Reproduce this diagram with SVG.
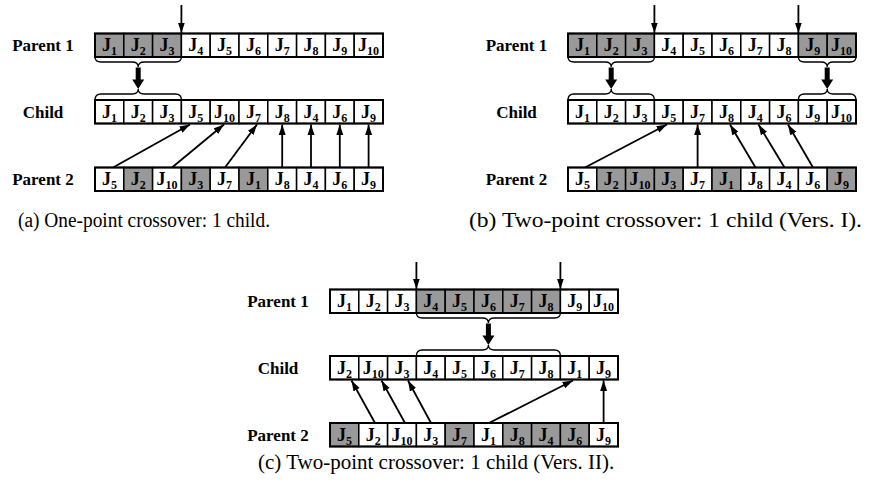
<svg xmlns="http://www.w3.org/2000/svg" width="873" height="490" viewBox="0 0 873 490">
<defs>
<style>
.bg{fill:#fff}
.c{fill:#fff;stroke:#000;stroke-width:1.5}
.g{fill:#999;stroke:#000;stroke-width:1.5}
.o{fill:none;stroke:#000;stroke-width:2}
.j{font-family:"Liberation Serif","Times New Roman",serif;font-weight:bold;font-size:18px;text-anchor:middle;fill:#000}
.s{font-size:12px}
.lbl{font-family:"Liberation Serif","Times New Roman",serif;font-weight:bold;font-size:17px;text-anchor:middle;fill:#000}
.cap{font-family:"Liberation Serif","Times New Roman",serif;font-size:21px;fill:#000}
.ln{stroke:#000;stroke-width:1.8;fill:none;marker-end:url(#ah)}
.br{stroke:#000;stroke-width:1.3;fill:none}
.th{fill:#000}
</style>
<marker id="ah" markerUnits="userSpaceOnUse" markerWidth="11" markerHeight="8" refX="10.5" refY="4" orient="auto">
<path d="M0,0.5 L10.5,4 L0,7.5 z" fill="#000"/>
</marker>
</defs>
<rect class="bg" x="0" y="0" width="873" height="490"/>

<!-- ===== Panel (a) ===== -->
<text class="lbl" x="43" y="51.2">Parent 1</text>
<text class="lbl" x="43" y="117.7">Child</text>
<text class="lbl" x="43" y="185.2">Parent 2</text>

<g id="a-parent1">
<rect class="g" x="95" y="33.5" width="28.8" height="23.5"/>
<rect class="g" x="123.8" y="33.5" width="28.8" height="23.5"/>
<rect class="g" x="152.6" y="33.5" width="28.8" height="23.5"/>
<rect class="c" x="181.4" y="33.5" width="28.8" height="23.5"/>
<rect class="c" x="210.2" y="33.5" width="28.8" height="23.5"/>
<rect class="c" x="239" y="33.5" width="28.8" height="23.5"/>
<rect class="c" x="267.8" y="33.5" width="28.8" height="23.5"/>
<rect class="c" x="296.6" y="33.5" width="28.8" height="23.5"/>
<rect class="c" x="325.4" y="33.5" width="28.8" height="23.5"/>
<rect class="c" x="354.2" y="33.5" width="28.8" height="23.5"/>
<rect class="o" x="95" y="33.5" width="288" height="23.5"/>
<text class="j" x="109.4" y="51">J<tspan class="s" dy="4">1</tspan></text>
<text class="j" x="138.2" y="51">J<tspan class="s" dy="4">2</tspan></text>
<text class="j" x="167" y="51">J<tspan class="s" dy="4">3</tspan></text>
<text class="j" x="195.8" y="51">J<tspan class="s" dy="4">4</tspan></text>
<text class="j" x="224.6" y="51">J<tspan class="s" dy="4">5</tspan></text>
<text class="j" x="253.4" y="51">J<tspan class="s" dy="4">6</tspan></text>
<text class="j" x="282.2" y="51">J<tspan class="s" dy="4">7</tspan></text>
<text class="j" x="311" y="51">J<tspan class="s" dy="4">8</tspan></text>
<text class="j" x="339.8" y="51">J<tspan class="s" dy="4">9</tspan></text>
<text class="j" x="368.6" y="51">J<tspan class="s" dy="4">10</tspan></text>
</g>

<g id="a-child">
<rect class="c" x="95" y="100" width="28.8" height="23.5"/>
<rect class="c" x="123.8" y="100" width="28.8" height="23.5"/>
<rect class="c" x="152.6" y="100" width="28.8" height="23.5"/>
<rect class="c" x="181.4" y="100" width="28.8" height="23.5"/>
<rect class="c" x="210.2" y="100" width="28.8" height="23.5"/>
<rect class="c" x="239" y="100" width="28.8" height="23.5"/>
<rect class="c" x="267.8" y="100" width="28.8" height="23.5"/>
<rect class="c" x="296.6" y="100" width="28.8" height="23.5"/>
<rect class="c" x="325.4" y="100" width="28.8" height="23.5"/>
<rect class="c" x="354.2" y="100" width="28.8" height="23.5"/>
<rect class="o" x="95" y="100" width="288" height="23.5"/>
<text class="j" x="109.4" y="117.5">J<tspan class="s" dy="4">1</tspan></text>
<text class="j" x="138.2" y="117.5">J<tspan class="s" dy="4">2</tspan></text>
<text class="j" x="167" y="117.5">J<tspan class="s" dy="4">3</tspan></text>
<text class="j" x="195.8" y="117.5">J<tspan class="s" dy="4">5</tspan></text>
<text class="j" x="224.6" y="117.5">J<tspan class="s" dy="4">10</tspan></text>
<text class="j" x="253.4" y="117.5">J<tspan class="s" dy="4">7</tspan></text>
<text class="j" x="282.2" y="117.5">J<tspan class="s" dy="4">8</tspan></text>
<text class="j" x="311" y="117.5">J<tspan class="s" dy="4">4</tspan></text>
<text class="j" x="339.8" y="117.5">J<tspan class="s" dy="4">6</tspan></text>
<text class="j" x="368.6" y="117.5">J<tspan class="s" dy="4">9</tspan></text>
</g>

<g id="a-parent2">
<rect class="c" x="95" y="167.5" width="28.8" height="23.5"/>
<rect class="g" x="123.8" y="167.5" width="28.8" height="23.5"/>
<rect class="c" x="152.6" y="167.5" width="28.8" height="23.5"/>
<rect class="g" x="181.4" y="167.5" width="28.8" height="23.5"/>
<rect class="c" x="210.2" y="167.5" width="28.8" height="23.5"/>
<rect class="g" x="239" y="167.5" width="28.8" height="23.5"/>
<rect class="c" x="267.8" y="167.5" width="28.8" height="23.5"/>
<rect class="c" x="296.6" y="167.5" width="28.8" height="23.5"/>
<rect class="c" x="325.4" y="167.5" width="28.8" height="23.5"/>
<rect class="c" x="354.2" y="167.5" width="28.8" height="23.5"/>
<rect class="o" x="95" y="167.5" width="288" height="23.5"/>
<text class="j" x="109.4" y="185">J<tspan class="s" dy="4">5</tspan></text>
<text class="j" x="138.2" y="185">J<tspan class="s" dy="4">2</tspan></text>
<text class="j" x="167" y="185">J<tspan class="s" dy="4">10</tspan></text>
<text class="j" x="195.8" y="185">J<tspan class="s" dy="4">3</tspan></text>
<text class="j" x="224.6" y="185">J<tspan class="s" dy="4">7</tspan></text>
<text class="j" x="253.4" y="185">J<tspan class="s" dy="4">1</tspan></text>
<text class="j" x="282.2" y="185">J<tspan class="s" dy="4">8</tspan></text>
<text class="j" x="311" y="185">J<tspan class="s" dy="4">4</tspan></text>
<text class="j" x="339.8" y="185">J<tspan class="s" dy="4">6</tspan></text>
<text class="j" x="368.6" y="185">J<tspan class="s" dy="4">9</tspan></text>
</g>

<text class="cap" x="18" y="227" style="font-size:20.5px" textLength="252" lengthAdjust="spacingAndGlyphs">(a) One-point crossover: 1 child.</text>

<!-- ===== Panel (b) ===== -->
<text class="lbl" x="516.5" y="51.2">Parent 1</text>
<text class="lbl" x="516.5" y="117.7">Child</text>
<text class="lbl" x="516.5" y="185.2">Parent 2</text>

<g id="b-parent1">
<rect class="g" x="568" y="33.5" width="28.8" height="23.5"/>
<rect class="g" x="596.8" y="33.5" width="28.8" height="23.5"/>
<rect class="g" x="625.6" y="33.5" width="28.8" height="23.5"/>
<rect class="c" x="654.4" y="33.5" width="28.8" height="23.5"/>
<rect class="c" x="683.2" y="33.5" width="28.8" height="23.5"/>
<rect class="c" x="712" y="33.5" width="28.8" height="23.5"/>
<rect class="c" x="740.8" y="33.5" width="28.8" height="23.5"/>
<rect class="c" x="769.6" y="33.5" width="28.8" height="23.5"/>
<rect class="g" x="798.4" y="33.5" width="28.8" height="23.5"/>
<rect class="g" x="827.2" y="33.5" width="28.8" height="23.5"/>
<rect class="o" x="568" y="33.5" width="288" height="23.5"/>
<text class="j" x="582.4" y="51">J<tspan class="s" dy="4">1</tspan></text>
<text class="j" x="611.2" y="51">J<tspan class="s" dy="4">2</tspan></text>
<text class="j" x="640" y="51">J<tspan class="s" dy="4">3</tspan></text>
<text class="j" x="668.8" y="51">J<tspan class="s" dy="4">4</tspan></text>
<text class="j" x="697.6" y="51">J<tspan class="s" dy="4">5</tspan></text>
<text class="j" x="726.4" y="51">J<tspan class="s" dy="4">6</tspan></text>
<text class="j" x="755.2" y="51">J<tspan class="s" dy="4">7</tspan></text>
<text class="j" x="784" y="51">J<tspan class="s" dy="4">8</tspan></text>
<text class="j" x="812.8" y="51">J<tspan class="s" dy="4">9</tspan></text>
<text class="j" x="841.6" y="51">J<tspan class="s" dy="4">10</tspan></text>
</g>

<g id="b-child">
<rect class="c" x="568" y="100" width="28.8" height="23.5"/>
<rect class="c" x="596.8" y="100" width="28.8" height="23.5"/>
<rect class="c" x="625.6" y="100" width="28.8" height="23.5"/>
<rect class="c" x="654.4" y="100" width="28.8" height="23.5"/>
<rect class="c" x="683.2" y="100" width="28.8" height="23.5"/>
<rect class="c" x="712" y="100" width="28.8" height="23.5"/>
<rect class="c" x="740.8" y="100" width="28.8" height="23.5"/>
<rect class="c" x="769.6" y="100" width="28.8" height="23.5"/>
<rect class="c" x="798.4" y="100" width="28.8" height="23.5"/>
<rect class="c" x="827.2" y="100" width="28.8" height="23.5"/>
<rect class="o" x="568" y="100" width="288" height="23.5"/>
<text class="j" x="582.4" y="117.5">J<tspan class="s" dy="4">1</tspan></text>
<text class="j" x="611.2" y="117.5">J<tspan class="s" dy="4">2</tspan></text>
<text class="j" x="640" y="117.5">J<tspan class="s" dy="4">3</tspan></text>
<text class="j" x="668.8" y="117.5">J<tspan class="s" dy="4">5</tspan></text>
<text class="j" x="697.6" y="117.5">J<tspan class="s" dy="4">7</tspan></text>
<text class="j" x="726.4" y="117.5">J<tspan class="s" dy="4">8</tspan></text>
<text class="j" x="755.2" y="117.5">J<tspan class="s" dy="4">4</tspan></text>
<text class="j" x="784" y="117.5">J<tspan class="s" dy="4">6</tspan></text>
<text class="j" x="812.8" y="117.5">J<tspan class="s" dy="4">9</tspan></text>
<text class="j" x="841.6" y="117.5">J<tspan class="s" dy="4">10</tspan></text>
</g>

<g id="b-parent2">
<rect class="c" x="568" y="167.5" width="28.8" height="23.5"/>
<rect class="g" x="596.8" y="167.5" width="28.8" height="23.5"/>
<rect class="g" x="625.6" y="167.5" width="28.8" height="23.5"/>
<rect class="g" x="654.4" y="167.5" width="28.8" height="23.5"/>
<rect class="c" x="683.2" y="167.5" width="28.8" height="23.5"/>
<rect class="g" x="712" y="167.5" width="28.8" height="23.5"/>
<rect class="c" x="740.8" y="167.5" width="28.8" height="23.5"/>
<rect class="c" x="769.6" y="167.5" width="28.8" height="23.5"/>
<rect class="c" x="798.4" y="167.5" width="28.8" height="23.5"/>
<rect class="g" x="827.2" y="167.5" width="28.8" height="23.5"/>
<rect class="o" x="568" y="167.5" width="288" height="23.5"/>
<text class="j" x="582.4" y="185">J<tspan class="s" dy="4">5</tspan></text>
<text class="j" x="611.2" y="185">J<tspan class="s" dy="4">2</tspan></text>
<text class="j" x="640" y="185">J<tspan class="s" dy="4">10</tspan></text>
<text class="j" x="668.8" y="185">J<tspan class="s" dy="4">3</tspan></text>
<text class="j" x="697.6" y="185">J<tspan class="s" dy="4">7</tspan></text>
<text class="j" x="726.4" y="185">J<tspan class="s" dy="4">1</tspan></text>
<text class="j" x="755.2" y="185">J<tspan class="s" dy="4">8</tspan></text>
<text class="j" x="784" y="185">J<tspan class="s" dy="4">4</tspan></text>
<text class="j" x="812.8" y="185">J<tspan class="s" dy="4">6</tspan></text>
<text class="j" x="841.6" y="185">J<tspan class="s" dy="4">9</tspan></text>
</g>

<text class="cap" x="469" y="227" style="font-size:22px" textLength="393" lengthAdjust="spacingAndGlyphs">(b) Two-point crossover: 1 child (Vers. I).</text>

<!-- ===== Panel (c) ===== -->
<text class="lbl" x="278" y="307.2">Parent 1</text>
<text class="lbl" x="278" y="373.7">Child</text>
<text class="lbl" x="278" y="440.7">Parent 2</text>

<g id="c-parent1">
<rect class="c" x="330" y="289.5" width="28.8" height="23.5"/>
<rect class="c" x="358.8" y="289.5" width="28.8" height="23.5"/>
<rect class="c" x="387.6" y="289.5" width="28.8" height="23.5"/>
<rect class="g" x="416.4" y="289.5" width="28.8" height="23.5"/>
<rect class="g" x="445.2" y="289.5" width="28.8" height="23.5"/>
<rect class="g" x="474" y="289.5" width="28.8" height="23.5"/>
<rect class="g" x="502.8" y="289.5" width="28.8" height="23.5"/>
<rect class="g" x="531.6" y="289.5" width="28.8" height="23.5"/>
<rect class="c" x="560.4" y="289.5" width="28.8" height="23.5"/>
<rect class="c" x="589.2" y="289.5" width="28.8" height="23.5"/>
<rect class="o" x="330" y="289.5" width="288" height="23.5"/>
<text class="j" x="344.4" y="307">J<tspan class="s" dy="4">1</tspan></text>
<text class="j" x="373.2" y="307">J<tspan class="s" dy="4">2</tspan></text>
<text class="j" x="402" y="307">J<tspan class="s" dy="4">3</tspan></text>
<text class="j" x="430.8" y="307">J<tspan class="s" dy="4">4</tspan></text>
<text class="j" x="459.6" y="307">J<tspan class="s" dy="4">5</tspan></text>
<text class="j" x="488.4" y="307">J<tspan class="s" dy="4">6</tspan></text>
<text class="j" x="517.2" y="307">J<tspan class="s" dy="4">7</tspan></text>
<text class="j" x="546" y="307">J<tspan class="s" dy="4">8</tspan></text>
<text class="j" x="574.8" y="307">J<tspan class="s" dy="4">9</tspan></text>
<text class="j" x="603.6" y="307">J<tspan class="s" dy="4">10</tspan></text>
</g>

<g id="c-child">
<rect class="c" x="330" y="356" width="28.8" height="23.5"/>
<rect class="c" x="358.8" y="356" width="28.8" height="23.5"/>
<rect class="c" x="387.6" y="356" width="28.8" height="23.5"/>
<rect class="c" x="416.4" y="356" width="28.8" height="23.5"/>
<rect class="c" x="445.2" y="356" width="28.8" height="23.5"/>
<rect class="c" x="474" y="356" width="28.8" height="23.5"/>
<rect class="c" x="502.8" y="356" width="28.8" height="23.5"/>
<rect class="c" x="531.6" y="356" width="28.8" height="23.5"/>
<rect class="c" x="560.4" y="356" width="28.8" height="23.5"/>
<rect class="c" x="589.2" y="356" width="28.8" height="23.5"/>
<rect class="o" x="330" y="356" width="288" height="23.5"/>
<text class="j" x="344.4" y="373.5">J<tspan class="s" dy="4">2</tspan></text>
<text class="j" x="373.2" y="373.5">J<tspan class="s" dy="4">10</tspan></text>
<text class="j" x="402" y="373.5">J<tspan class="s" dy="4">3</tspan></text>
<text class="j" x="430.8" y="373.5">J<tspan class="s" dy="4">4</tspan></text>
<text class="j" x="459.6" y="373.5">J<tspan class="s" dy="4">5</tspan></text>
<text class="j" x="488.4" y="373.5">J<tspan class="s" dy="4">6</tspan></text>
<text class="j" x="517.2" y="373.5">J<tspan class="s" dy="4">7</tspan></text>
<text class="j" x="546" y="373.5">J<tspan class="s" dy="4">8</tspan></text>
<text class="j" x="574.8" y="373.5">J<tspan class="s" dy="4">1</tspan></text>
<text class="j" x="603.6" y="373.5">J<tspan class="s" dy="4">9</tspan></text>
</g>

<g id="c-parent2">
<rect class="g" x="330" y="423" width="28.8" height="23.5"/>
<rect class="c" x="358.8" y="423" width="28.8" height="23.5"/>
<rect class="c" x="387.6" y="423" width="28.8" height="23.5"/>
<rect class="c" x="416.4" y="423" width="28.8" height="23.5"/>
<rect class="g" x="445.2" y="423" width="28.8" height="23.5"/>
<rect class="c" x="474" y="423" width="28.8" height="23.5"/>
<rect class="g" x="502.8" y="423" width="28.8" height="23.5"/>
<rect class="g" x="531.6" y="423" width="28.8" height="23.5"/>
<rect class="g" x="560.4" y="423" width="28.8" height="23.5"/>
<rect class="c" x="589.2" y="423" width="28.8" height="23.5"/>
<rect class="o" x="330" y="423" width="288" height="23.5"/>
<text class="j" x="344.4" y="440.5">J<tspan class="s" dy="4">5</tspan></text>
<text class="j" x="373.2" y="440.5">J<tspan class="s" dy="4">2</tspan></text>
<text class="j" x="402" y="440.5">J<tspan class="s" dy="4">10</tspan></text>
<text class="j" x="430.8" y="440.5">J<tspan class="s" dy="4">3</tspan></text>
<text class="j" x="459.6" y="440.5">J<tspan class="s" dy="4">7</tspan></text>
<text class="j" x="488.4" y="440.5">J<tspan class="s" dy="4">1</tspan></text>
<text class="j" x="517.2" y="440.5">J<tspan class="s" dy="4">8</tspan></text>
<text class="j" x="546" y="440.5">J<tspan class="s" dy="4">4</tspan></text>
<text class="j" x="574.8" y="440.5">J<tspan class="s" dy="4">6</tspan></text>
<text class="j" x="603.6" y="440.5">J<tspan class="s" dy="4">9</tspan></text>
</g>

<text class="cap" x="258" y="469">(c) Two-point crossover: 1 child (Vers. II).</text>

<!-- ===== Connectors ===== -->
<g id="connectors">
<line class="ln" x1="181.4" y1="5" x2="181.4" y2="33"/>
<line class="ln" x1="654.4" y1="5" x2="654.4" y2="33"/>
<line class="ln" x1="798.4" y1="5" x2="798.4" y2="33"/>
<line class="ln" x1="416.4" y1="262" x2="416.4" y2="289"/>
<line class="ln" x1="560.4" y1="262" x2="560.4" y2="289"/>

<path class="br" d="M95,57 Q95,62 101,62 L132.2,62 Q138.2,62 138.2,67 Q138.2,62 144.2,62 L175.4,62 Q181.4,62 181.4,57"/>
<path class="br" d="M95,100 Q95,94 101,94 L132.2,94 Q138.2,94 138.2,89 Q138.2,94 144.2,94 L175.4,94 Q181.4,94 181.4,100"/>
<path class="th" d="M135.7,67.5 H140.7 V79.5 H144.2 L138.2,89 L132.2,79.5 H135.7 Z"/>

<path class="br" d="M568,57 Q568,62 574,62 L605.2,62 Q611.2,62 611.2,67 Q611.2,62 617.2,62 L648.4,62 Q654.4,62 654.4,57"/>
<path class="br" d="M568,100 Q568,94 574,94 L605.2,94 Q611.2,94 611.2,89 Q611.2,94 617.2,94 L648.4,94 Q654.4,94 654.4,100"/>
<path class="th" d="M608.7,67.5 H613.7 V79.5 H617.2 L611.2,89 L605.2,79.5 H608.7 Z"/>
<path class="br" d="M798.4,57 Q798.4,62 804.4,62 L821.2,62 Q827.2,62 827.2,67 Q827.2,62 833.2,62 L850,62 Q856,62 856,57"/>
<path class="br" d="M798.4,100 Q798.4,94 804.4,94 L821.2,94 Q827.2,94 827.2,89 Q827.2,94 833.2,94 L850,94 Q856,94 856,100"/>
<path class="th" d="M824.7,67.5 H829.7 V79.5 H833.2 L827.2,89 L821.2,79.5 H824.7 Z"/>

<path class="br" d="M416.4,313 Q416.4,318 422.4,318 L482.4,318 Q488.4,318 488.4,323 Q488.4,318 494.4,318 L554.4,318 Q560.4,318 560.4,313"/>
<path class="br" d="M416.4,356 Q416.4,350 422.4,350 L482.4,350 Q488.4,350 488.4,345 Q488.4,350 494.4,350 L554.4,350 Q560.4,350 560.4,356"/>
<path class="th" d="M485.9,323.5 H490.9 V335.5 H494.4 L488.4,345 L482.4,335.5 H485.9 Z"/>

<line class="ln" x1="113" y1="167.5" x2="190" y2="124.5"/>
<line class="ln" x1="172" y1="167.5" x2="224" y2="124.5"/>
<line class="ln" x1="225" y1="167.5" x2="257" y2="124.5"/>
<line class="ln" x1="282.2" y1="167.5" x2="282.2" y2="124.5"/>
<line class="ln" x1="311" y1="167.5" x2="311" y2="124.5"/>
<line class="ln" x1="339.8" y1="167.5" x2="339.8" y2="124.5"/>
<line class="ln" x1="368.6" y1="167.5" x2="368.6" y2="124.5"/>

<line class="ln" x1="585" y1="167.5" x2="667" y2="124.5"/>
<line class="ln" x1="697.6" y1="167.5" x2="697.6" y2="124.5"/>
<line class="ln" x1="755.5" y1="167.5" x2="730" y2="124.5"/>
<line class="ln" x1="784.5" y1="167.5" x2="758.5" y2="124.5"/>
<line class="ln" x1="813" y1="167.5" x2="788" y2="124.5"/>

<line class="ln" x1="375" y1="423" x2="351.5" y2="380.5"/>
<line class="ln" x1="405" y1="423" x2="381.5" y2="380.5"/>
<line class="ln" x1="431" y1="423" x2="408" y2="380.5"/>
<line class="ln" x1="489" y1="423" x2="573" y2="380.5"/>
<line class="ln" x1="603.6" y1="423" x2="603.6" y2="380.5"/>
</g>
</svg>
